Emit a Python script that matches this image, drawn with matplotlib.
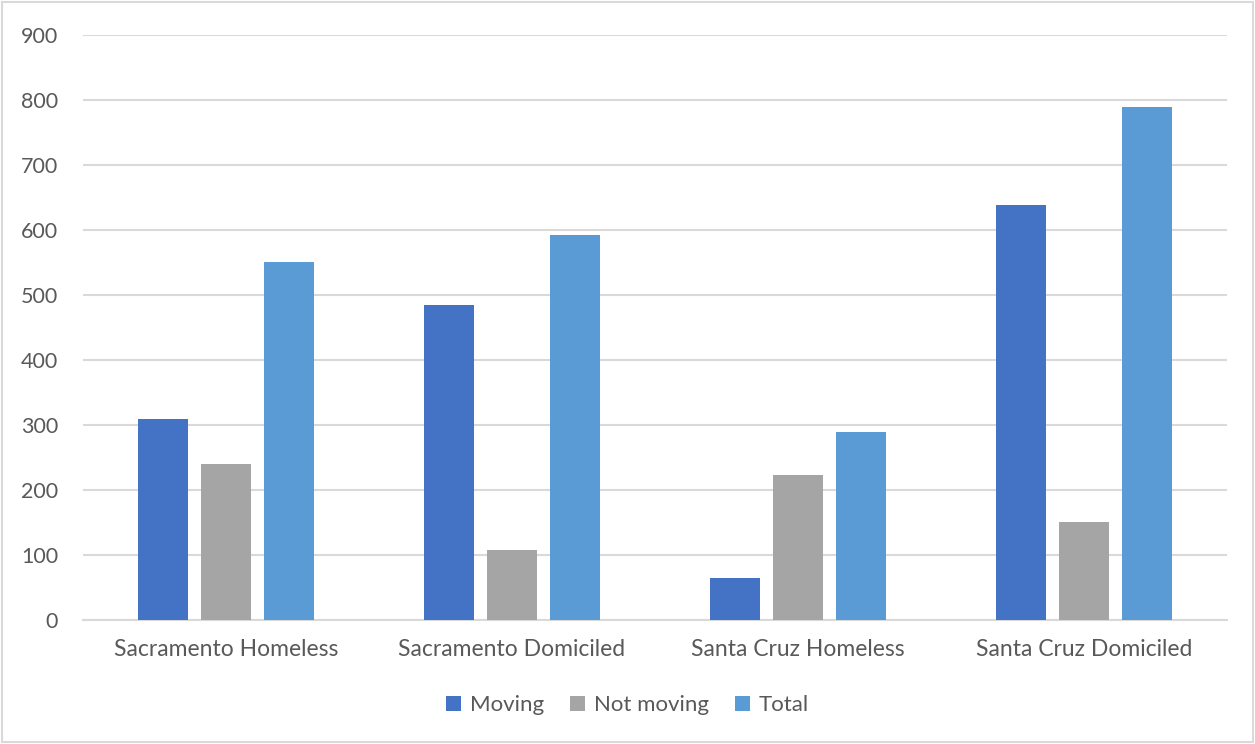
import matplotlib
matplotlib.use("Agg")
import matplotlib.pyplot as plt
import numpy as np
from matplotlib.patches import Rectangle

categories = ["Sacramento Homeless", "Sacramento Domiciled", "Santa Cruz Homeless", "Santa Cruz Domiciled"]
moving = [310, 485, 65, 639]
not_moving = [240, 107, 223, 151]
total = [551, 593, 289, 790]
series_names = ["Moving", "Not moving", "Total"]
colors = ["#4472C4", "#A5A5A5", "#5B9BD5"]
yticks = [0, 100, 200, 300, 400, 500, 600, 700, 800, 900]

plt.rcParams['font.family'] = ['Lato', 'DejaVu Sans']

W, H = 1255, 744
fig = plt.figure(figsize=(W/100, H/100), dpi=100)
fig.patches.append(Rectangle((2/W, 2/H), 1-4/W, 1-4/H, transform=fig.transFigure,
                             fill=False, edgecolor="#D9D9D9", linewidth=1.5))

left, right = 83/W, 1227/W
bottom, top = 1-620/H, 1-35/H
ax = fig.add_axes([left, bottom, right-left, top-bottom])

x = np.arange(len(categories))
bw = 0.175
off = 0.219
for i, (vals, name, c) in enumerate(zip([moving, not_moving, total], series_names, colors)):
    ax.bar(x + (i-1)*off, vals, width=bw, color=c, label=name, zorder=3)

ax.set_xlim(-0.5, len(categories)-0.5)
ax.set_ylim(0, 900)
ax.set_yticks(yticks)
ax.set_xticks(x)
ax.set_xticklabels(categories)
ax.yaxis.grid(True, color="#D9D9D9", linewidth=1.5, zorder=0)
ax.set_axisbelow(True)
for s in ["top", "right", "left"]:
    ax.spines[s].set_visible(False)
ax.spines["bottom"].set_color("#D9D9D9")
ax.spines["bottom"].set_linewidth(1.5)
ax.tick_params(axis="both", length=0, labelcolor="#595959")
ax.tick_params(axis="y", pad=18, labelsize=15.5)
ax.tick_params(axis="x", pad=14, labelsize=16.5)

leg = fig.legend(loc="center", bbox_to_anchor=(0.5, 1-705/H), ncol=3, frameon=False,
                 fontsize=16, handlelength=0.65, handleheight=0.65, handletextpad=0.4,
                 columnspacing=1.2)
for t in leg.get_texts():
    t.set_color("#595959")

fig.savefig("out.png", dpi=100)
